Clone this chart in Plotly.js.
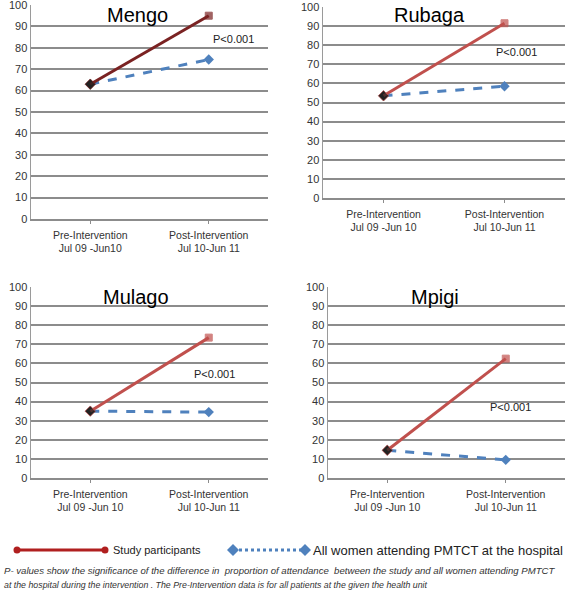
<!DOCTYPE html>
<html><head><meta charset="utf-8">
<script src="https://cdn.plot.ly/plotly-3.0.1.min.js"></script>
<style>html,body{margin:0;padding:0;background:#fff}#chart{width:567px;height:591px}</style>
</head><body><div id="chart"></div>
<script>
// ---- data ----
const hospitals = ['Mengo', 'Rubaga', 'Mulago', 'Mpigi'];
const periods = [0, 1];
const preLabels = ['Pre-Intervention<br>Jul 09 -Jun10', 'Pre-Intervention<br>Jul 09 -Jun 10', 'Pre-Intervention<br>Jul 09 -Jun 10', 'Pre-Intervention<br>Jul 09 -Jun 10'];
const postLabels = ['Post-Intervention<br>Jul 10-Jun 11', 'Post-Intervention<br>Jul 10-Jun 11', 'Post-Intervention<br>Jul 10-Jun 11', 'Post-Intervention<br>Jul 10-Jun 11'];
const mengoStudy = [63, 95];
const mengoAll = [63, 74.5];
const rubagaStudy = [53.5, 91.5];
const rubagaAll = [53.5, 58.5];
const mulagoStudy = [35, 73.5];
const mulagoAll = [35, 34.5];
const mpigiStudy = [14.5, 62.5];
const mpigiAll = [14.5, 9.5];
const pValues = ['P<0.001', 'P<0.001', 'P<0.001', 'P<0.001'];
const seriesNames = ['Study participants', 'All women attending PMTCT at the hospital'];
const footnote = ['P- values show the significance of the difference in  proportion of attendance  between the study and all women attending PMTCT',
                  'at the hospital during the intervention . The Pre-Intervention data is for all patients at the given the health unit'];

const studySeries = [mengoStudy, rubagaStudy, mulagoStudy, mpigiStudy];
const allSeries = [mengoAll, rubagaAll, mulagoAll, mpigiAll];

// ---- layout helpers (pixels -> paper) ----
const W = 567, H = 591;
const fx = x => x / W;
const fy = y => 1 - y / H;
const boxes = [
  {l: 31, r: 268, t: 5, b: 219},
  {l: 323, r: 565, t: 7, b: 198},
  {l: 31, r: 268, t: 287, b: 478},
  {l: 328, r: 565, t: 287, b: 478}
];
const titlePos = [[0.40, 95.5], [0.38, 95.8], [0.39, 94.8], [0.40, 94.8]];
const pPos = [[1.21, 84], [1.10, 76.4], [1.05, 54.5], [1.04, 37.2]];
const studyColors = ['#7a2222', '#c0504d', '#c0504d', '#c0504d'];

const FONT = 'Liberation Sans, Arial, sans-serif';
const traces = [];
const layout = {
  width: W, height: H,
  margin: {l: 0, r: 0, t: 0, b: 0},
  paper_bgcolor: '#fff', plot_bgcolor: '#fff',
  showlegend: false,
  font: {family: FONT, color: '#333', size: 10},
  annotations: [], shapes: []
};

hospitals.forEach((h, i) => {
  const n = i === 0 ? '' : String(i + 1);
  const xa = 'x' + n, ya = 'y' + n;
  const b = boxes[i];
  layout['xaxis' + n] = {
    domain: [fx(b.l), fx(b.r)], anchor: ya,
    range: [-0.5, 1.5], tickvals: periods, ticktext: [preLabels[i], postLabels[i]],
    showgrid: false, zeroline: false, showline: true, linecolor: '#8c8c8c', linewidth: 2,
    ticks: 'outside', ticklen: 3, tickcolor: '#8c8c8c', tickwidth: 1,
    ticklabelstandoff: 2,
    tickfont: {family: FONT, size: 10.5, color: '#333'}, fixedrange: true
  };
  layout['yaxis' + n] = {
    domain: [fy(b.b), fy(b.t)], anchor: xa,
    range: [0, 100], dtick: 10, tick0: 0,
    showgrid: true, gridcolor: '#8c8c8c', gridwidth: 2,
    zeroline: false, showline: true, linecolor: '#9a9a9a', linewidth: 1.5,
    ticks: '', ticklabeloverflow: 'allow',
    tickfont: {family: FONT, size: 11, color: '#333'}, fixedrange: true
  };
  traces.push({
    type: 'scatter', mode: 'lines+markers', x: periods, y: allSeries[i],
    xaxis: xa, yaxis: ya, name: seriesNames[1],
    line: {color: '#4f81bd', width: 3, dash: 'dash'},
    marker: {symbol: 'diamond', size: 8, color: ['#222', '#4f81bd']}
  });
  traces.push({
    type: 'scatter', mode: 'lines+markers', x: periods, y: studySeries[i],
    xaxis: xa, yaxis: ya, name: seriesNames[0],
    line: {color: studyColors[i], width: 3},
    marker: {symbol: ['diamond', 'square'], size: [8, 7], color: ['#222', studyColors[i]]}
  });
  layout.annotations.push({
    xref: xa, yref: ya, x: titlePos[i][0], y: titlePos[i][1], text: h, showarrow: false,
    font: {family: FONT, size: 20, color: '#000'}
  });
  layout.annotations.push({
    xref: xa, yref: ya, x: pPos[i][0], y: pPos[i][1], text: pValues[i], showarrow: false,
    font: {family: FONT, size: 11, color: '#222'}
  });
});

// ---- legend (decoration) ----
const legY = fy(550);
layout.shapes.push({type: 'line', xref: 'paper', yref: 'paper', x0: fx(17), x1: fx(105), y0: legY, y1: legY, line: {color: '#b01f1f', width: 3}});
[17, 105].forEach(x => layout.shapes.push({type: 'circle', xref: 'paper', yref: 'paper', x0: fx(x - 3.5), x1: fx(x + 3.5), y0: fy(553.5), y1: fy(546.5), fillcolor: '#b01f1f', line: {width: 0}}));
layout.shapes.push({type: 'line', xref: 'paper', yref: 'paper', x0: fx(233), x1: fx(305), y0: legY, y1: legY, line: {color: '#4f81bd', width: 3, dash: 'dot'}});
[233, 305].forEach(x => layout.shapes.push({type: 'path', xref: 'paper', yref: 'paper',
  path: `M ${fx(x - 6)} ${legY} L ${fx(x)} ${fy(544)} L ${fx(x + 6)} ${legY} L ${fx(x)} ${fy(556)} Z`,
  fillcolor: '#4f81bd', line: {width: 0}}));
layout.annotations.push({xref: 'paper', yref: 'paper', x: fx(111), y: legY, xanchor: 'left', yanchor: 'middle', text: seriesNames[0], showarrow: false, font: {family: FONT, size: 11, color: '#222'}});
layout.annotations.push({xref: 'paper', yref: 'paper', x: fx(311), y: legY, xanchor: 'left', yanchor: 'middle', text: seriesNames[1], showarrow: false, font: {family: FONT, size: 13, color: '#222'}});
layout.annotations.push({xref: 'paper', yref: 'paper', x: fx(2), y: fy(570), xanchor: 'left', yanchor: 'middle', text: '<i>' + footnote[0] + '</i>', showarrow: false, font: {family: FONT, size: 9.6, color: '#333'}});
layout.annotations.push({xref: 'paper', yref: 'paper', x: fx(2), y: fy(585), xanchor: 'left', yanchor: 'middle', text: '<i>' + footnote[1] + '</i>', showarrow: false, font: {family: FONT, size: 8.8, color: '#333'}});

Plotly.newPlot('chart', traces, layout, {displayModeBar: false, staticPlot: true});
</script>
</body></html>
